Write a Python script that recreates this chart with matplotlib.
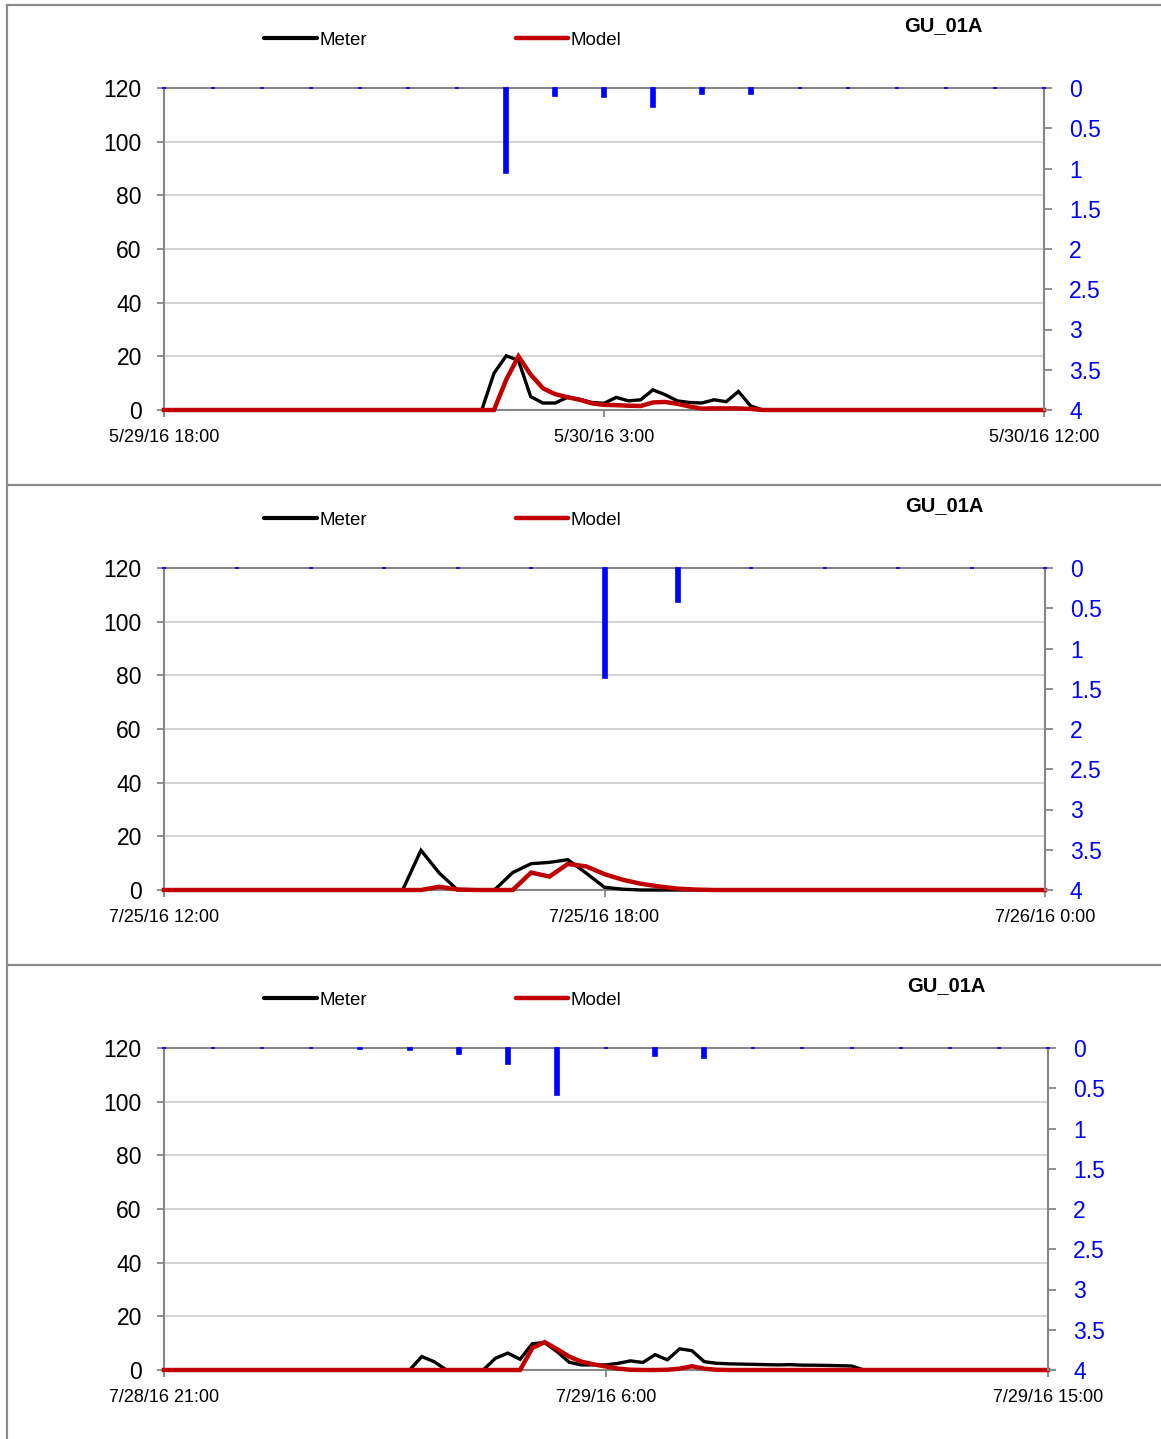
import numpy as np
import matplotlib
matplotlib.use("Agg")
import matplotlib.pyplot as plt
from matplotlib import font_manager
from matplotlib.lines import Line2D

# ---- fonts -------------------------------------------------------------
_names = {f.name for f in font_manager.fontManager.ttflist}
FONT = "Liberation Sans Narrow" if "Liberation Sans Narrow" in _names else "Liberation Sans"
plt.rcParams["font.family"] = [FONT, "DejaVu Sans"]

# ---- data (flow at 15-minute steps, rainfall hourly) -------------------
site = "GU_01A"
series_names = ["Meter", "Model"]

# Event 1: 5/29/16 18:00 - 5/30/16 12:00
x_labels_1 = ["5/29/16 18:00", "5/30/16 3:00", "5/30/16 12:00"]
meter_1 = [0] * 27 + [13.7, 20.2, 18.5, 5.0, 2.6, 2.6, 4.7, 4.0, 2.8, 2.5, 4.7, 3.4,
                     3.8, 7.5, 5.7, 3.4, 2.8, 2.6, 3.8, 3.1, 6.9, 1.5] + [0] * 24
model_1 = [0] * 28 + [11.3, 20.0, 13.2, 8.1, 5.9, 4.8, 3.8, 2.5, 1.9, 1.8, 1.6, 1.5,
                     2.8, 3.0, 2.3, 1.3, 0.5, 0.6, 0.6, 0.6, 0.4] + [0] * 24
rain_1 = [0, 0, 0, 0, 0, 0, 0, 1.05, 0.10, 0.11, 0.23, 0.08, 0.07, 0, 0, 0, 0, 0, 0]

# Event 2: 7/25/16 12:00 - 7/26/16 0:00
x_labels_2 = ["7/25/16 12:00", "7/25/16 18:00", "7/26/16 0:00"]
meter_2 = [0] * 14 + [14.8, 6.3, 0, 0, 0, 6.5, 9.8, 10.3, 11.3, 6.3, 1.0, 0.3] + [0] * 23
model_2 = [0] * 15 + [1.2, 0.2, 0, 0, 0, 6.5, 5.0, 9.7, 8.8, 5.9, 3.8, 2.3, 1.3, 0.5,
                     0.15] + [0] * 19
rain_2 = [0, 0, 0, 0, 0, 0, 1.37, 0.42, 0, 0, 0, 0, 0]

# Event 3: 7/28/16 21:00 - 7/29/16 15:00
x_labels_3 = ["7/28/16 21:00", "7/29/16 6:00", "7/29/16 15:00"]
meter_3 = [0] * 21 + [5.0, 3.1, 0, 0, 0, 0, 4.4, 6.3, 4.0, 9.8, 10.2, 6.9, 2.9, 1.9,
                     1.9, 1.9, 2.5, 3.4, 2.8, 5.7, 3.8, 7.9, 7.2, 3.1, 2.5, 2.3, 2.2,
                     2.1, 2.0, 1.9, 2.0, 1.8, 1.8, 1.7, 1.6, 1.5] + [0] * 16
model_3 = [0] * 30 + [8.2, 10.4, 7.8, 5.0, 3.1, 2.1, 1.3, 0.5, 0.1, 0, 0, 0.1, 0.5,
                     1.4, 0.5, 0.1] + [0] * 27
rain_3 = [0, 0, 0, 0, 0.01, 0.03, 0.08, 0.20, 0.58, 0, 0.10, 0.13, 0, 0, 0, 0, 0, 0, 0]

events = [
    (meter_1, model_1, rain_1, x_labels_1),
    (meter_2, model_2, rain_2, x_labels_2),
    (meter_3, model_3, rain_3, x_labels_3),
]

# ---- layout --------------------------------------------------------------
W, H = 1161, 1439
fig = plt.figure(figsize=(W / 100, H / 100), dpi=100)

# plot-area pixel boxes: (left, right, top, bottom)
boxes = [(164, 1044, 88, 410), (164, 1045, 568, 890), (164, 1048, 1048, 1370)]
legend_y = [40, 520, 1000]
title_pos = [(943, 26), (944, 506), (946, 986)]

GRAY = "#868686"
GRID = "#d0d0d0"
BLUE = "#0000ff"
RED = "#c00000"


def fx(px):
    return px / W


def fy(py):
    return 1 - py / H


for (meter, model, rain, labels), (l, r, t, b), ly, (tx, ty) in zip(
        events, boxes, legend_y, title_pos):
    ax = fig.add_axes([fx(l), fy(b), fx(r - l), (b - t) / H])
    n = len(meter)
    hours = np.arange(n) * 0.25
    span = hours[-1]

    ax.set_xlim(0, span)
    ax.set_ylim(0, 120)
    ax.set_yticks(np.arange(0, 121, 20))
    ax.set_xticks([0, span / 2, span])
    ax.set_xticklabels(labels)
    ax.grid(axis="y", color=GRID, linewidth=1.3)
    ax.set_axisbelow(True)
    for side in ("top", "right"):
        ax.spines[side].set_visible(False)
    for side in ("left", "bottom"):
        ax.spines[side].set_color(GRAY)
        ax.spines[side].set_linewidth(1.5)
    ax.tick_params(axis="y", direction="out", length=5, width=1.3, color=GRAY,
                   pad=11, labelsize=16.5, labelcolor="black")
    ax.tick_params(axis="x", direction="out", length=5, width=1.3, color=GRAY,
                   pad=9, labelsize=13, labelcolor="black")

    l_meter, = ax.plot(hours, meter, color="black", linewidth=2.4, zorder=3,
                       clip_on=False, solid_joinstyle="miter")
    l_model, = ax.plot(hours, model, color=RED, linewidth=3.2, zorder=4,
                       clip_on=False, solid_joinstyle="miter")

    # rainfall on an inverted secondary axis
    ax2 = ax.twinx()
    ax2.set_ylim(4, 0)
    ax2.set_yticks(np.arange(0, 4.01, 0.5))
    ax2.set_yticklabels([f"{v:g}" for v in np.arange(0, 4.01, 0.5)])
    for side in ("left", "bottom"):
        ax2.spines[side].set_visible(False)
    for side in ("top", "right"):
        ax2.spines[side].set_color(GRAY)
        ax2.spines[side].set_linewidth(1.5)
    ax2.tick_params(axis="y", direction="out", length=6, width=1.3, color=GRAY,
                    pad=12, labelsize=16.5, labelcolor=BLUE)
    rain_hours = np.arange(len(rain))
    px_per_hour = (r - l) / span
    ax2.bar(rain_hours, rain, width=4.0 / px_per_hour, color=BLUE,
            edgecolor=BLUE, linewidth=1.2, zorder=3, clip_on=False)
    ax2.set_xlim(0, span)

    # legend and site label
    handles = [Line2D([], [], color="black", linewidth=3.0, solid_capstyle="round"),
               Line2D([], [], color=RED, linewidth=3.2, solid_capstyle="round")]
    fig.legend(handles, series_names, loc="center",
               bbox_to_anchor=(fx(443), fy(ly)), ncol=2, frameon=False,
               fontsize=13.5, handlelength=2.8, handletextpad=0.15,
               columnspacing=7.9, borderpad=0)
    fig.text(fx(tx), fy(ty), site, ha="center", va="center",
             fontsize=14.5, fontweight="bold")

# panel frame and separators
for y in (5, 485, 965):
    fig.add_artist(Line2D([fx(7), 1], [fy(y), fy(y)], color="#8c8c8c",
                          linewidth=1.6))
fig.add_artist(Line2D([fx(7), fx(7)], [fy(5), 0], color="#8c8c8c", linewidth=1.6))

fig.savefig("out.png", dpi=100)
